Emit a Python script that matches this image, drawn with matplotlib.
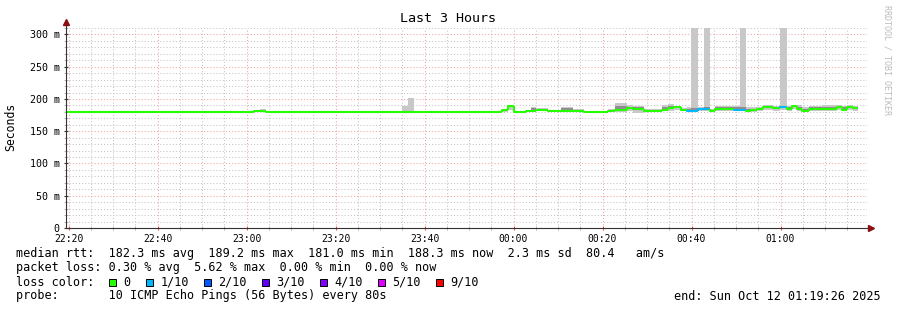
import matplotlib.pyplot as plt
from matplotlib.patches import Rectangle
from matplotlib.ticker import MultipleLocator

# --- data (minutes after 22:20, values in ms) ---
seg_start = [-0.6, 19.1, 20.4, 41.7, 43.1, 44.4, 75.0, 76.3, 77.6, 80.1,
             81.5, 93.6, 94.9, 97.4, 98.7, 100.1, 102.8, 103.9, 105.0, 107.7,
             110.6, 113.3, 115.8, 121.2, 122.8, 125.4, 126.8, 129.3, 130.8, 133.3,
             134.6, 136.0, 137.6, 138.9, 139.8, 141.4, 142.7, 144.1, 145.2, 149.5,
             150.8, 152.2, 153.3, 154.8, 156.0, 157.3, 158.4, 159.8, 161.4, 162.5,
             163.8, 164.9, 166.3, 169.4, 172.6, 173.7, 175.0, 176.2]
seg_end = 177.3
median_ms = [180, 180, 180, 182, 182, 180, 180, 180, 180, 180,
             180, 180, 180, 183, 188.5, 180, 181.5, 182, 183, 181.5,
             181, 181, 180, 182, 183, 186, 185, 181, 181, 183,
             186, 187.5, 183, 181.5, 181.5, 185, 185, 181, 184, 183.5,
             183.5, 182, 182.5, 184, 188, 187, 186, 188, 185, 189.5,
             185, 182, 184, 185, 187, 183, 188, 186]
smoke_lo = [179.5, 179.5, 179.5, 180, 180, 179.5, 179.5, 179.5, 179.5, 179.5,
            179.5, 179.5, 179.5, 180, 183, 179.5, 180, 180, 181, 180,
            180, 180, 179.5, 180, 180, 182, 179, 180, 180, 181,
            182, 183, 181, 180, 180, 181, 181, 180, 181, 181,
            181, 180, 180, 181, 183, 183, 182, 183, 182, 184,
            182, 180, 181, 181, 183, 181, 183, 182]
smoke_hi = [180.5, 182, 180.5, 182.5, 185, 180.5, 189, 201, 180.5, 181.5,
            180.5, 181.5, 180.5, 184, 190, 180.5, 183, 187, 186, 183,
            187, 184, 180.5, 184, 193, 190, 189, 185, 184, 190,
            192, 189, 186, 188, 320, 188, 320, 184, 189, 189,
            320, 188, 187, 188, 190, 190, 189, 320, 189, 191,
            190, 188, 189, 190, 190, 189, 190, 189]
core_hi = [180, 180, 180, 182, 182, 180, 180, 180, 180, 180,
           180, 180, 180, 183, 189, 180, 182, 186, 184, 182,
           186, 182, 180, 183, 189, 188, 187, 183, 183, 188,
           189, 188, 185, 185, 186, 186, 187, 183, 187, 187,
           187, 185, 185, 186, 189, 189, 188, 189, 187, 190,
           188, 185, 187, 188, 189, 187, 189, 188]
loss = [0] * 33 + [1, 1, 1, 1, 0, 0, 1, 1] + [0] * 6 + [1] + [0] * 10

loss_labels = ['0', '1/10', '2/10', '3/10', '4/10', '5/10', '9/10']
loss_colors = ['#26ff00', '#00b8ff', '#0059ff', '#5e00ff', '#7e00ff', '#dd00ff', '#ff0000']

tick_min = [0, 20, 40, 60, 80, 100, 120, 140, 160]
tick_labels = ['22:20', '22:40', '23:00', '23:20', '23:40', '00:00', '00:20', '00:40', '01:00']
y_ticks = [0, 50, 100, 150, 200, 250, 300]
y_labels = ['0', '50 m', '100 m', '150 m', '200 m', '250 m', '300 m']

W, H = 897, 310
MONO = 'DejaVu Sans Mono'
plt.rcParams['font.family'] = MONO


def fx(x):
    return x / W


def fy(y):
    return 1 - y / H


fig = plt.figure(figsize=(W / 100, H / 100), dpi=100)
fig.patch.set_facecolor('white')
ax = fig.add_axes([fx(66), fy(228), 801 / W, 200 / H])
x0, x1 = -0.57, 179.43
ax.set_xlim(x0, x1)
ax.set_ylim(0, 310)

# --- smoke ---
xs = seg_start + [seg_end]
ax.fill_between(xs, smoke_lo + [smoke_lo[-1]], smoke_hi + [smoke_hi[-1]],
                step='post', color='#c8c8c8', lw=0, zorder=2)
ax.fill_between(xs, median_ms + [median_ms[-1]], core_hi + [core_hi[-1]],
                step='post', color='#8e8e8e', lw=0, zorder=3)

# --- median coloured by loss ---
prev = median_ms[0]
for i, m in enumerate(median_ms):
    a = seg_start[i]
    b = seg_start[i + 1] if i + 1 < len(seg_start) else seg_end
    c = loss_colors[loss[i]]
    ax.plot([a, a, b], [prev, m, m], color=c, lw=1.5, zorder=4,
            solid_capstyle='butt')
    prev = m

# --- grid ---
ax.set_xticks(tick_min)
ax.set_xticklabels(tick_labels, fontsize=7)
ax.xaxis.set_minor_locator(MultipleLocator(5))
ax.set_yticks(y_ticks)
ax.set_yticklabels(y_labels, fontsize=7.2)
ax.yaxis.set_minor_locator(MultipleLocator(10))
ax.grid(which='major', color='#f2a2a2', linestyle=(0, (1, 2)), lw=0.75, zorder=0)
ax.grid(which='minor', color='#c4c4c4', linestyle=(0, (1, 2)), lw=0.75, zorder=0)
ax.set_axisbelow(True)
ax.tick_params(axis='both', which='major', length=3, direction='inout',
               color='#e05050', pad=3)
ax.tick_params(axis='both', which='minor', length=3, direction='inout',
               color='#aaaaaa')
ax.tick_params(axis='y', which='major', color='#333333')
for s in ax.spines.values():
    s.set_visible(False)

# axes with arrows
ytop = 310 + 7 / 0.645
xright = x1 + 5.5 / 4.45
ax.plot([x0, x0], [0, ytop], color='#333333', lw=0.8, clip_on=False, zorder=5)
ax.plot([x0, xright], [0, 0], color='#333333', lw=0.8, clip_on=False, zorder=5)
ax.plot([x0], [ytop - 1.5], marker='^', ms=4.5, color='#8b1010', clip_on=False, zorder=6)
ax.plot([xright - 0.3], [0], marker='>', ms=4.5, color='#8b1010', clip_on=False, zorder=6)

# --- texts ---
fig.text(fx(11), fy(127), 'Seconds', rotation=90, ha='center', va='center', fontsize=8.3)
fig.text(fx(448), fy(19), 'Last 3 Hours', ha='center', va='center', fontsize=9.6)
fig.text(fx(887), fy(5), 'RRDTOOL / TOBI OETIKER', rotation=270, ha='center',
         va='top', fontsize=6, color='#bbbbbb')

fs = 8.5
fig.text(fx(16), fy(254), 'median rtt:  182.3 ms avg  189.2 ms max  181.0 ms min  '
         '188.3 ms now  2.3 ms sd  80.4   am/s', va='center', fontsize=fs)
fig.text(fx(16), fy(268), 'packet loss: 0.30 % avg  5.62 % max  0.00 % min  0.00 % now',
         va='center', fontsize=fs)
fig.text(fx(16), fy(282), 'loss color:', va='center', fontsize=fs)
box_x = [109, 146, 204, 262, 320, 378, 436]
text_x = [123, 161, 218, 276, 334, 392, 450]
for bx, tx, lab, col in zip(box_x, text_x, loss_labels, loss_colors):
    fig.patches.append(Rectangle((fx(bx), fy(285.5)), 7 / W, 7 / H,
                                 transform=fig.transFigure, facecolor=col,
                                 edgecolor='black', lw=0.7))
    fig.text(fx(tx), fy(282), lab, va='center', fontsize=fs)
fig.text(fx(16), fy(296), 'probe:       10 ICMP Echo Pings (56 Bytes) every 80s',
         va='center', fontsize=fs)
fig.text(fx(881), fy(296), 'end: Sun Oct 12 01:19:26 2025', ha='right',
         va='center', fontsize=fs)

fig.savefig('out.png', dpi=100)
